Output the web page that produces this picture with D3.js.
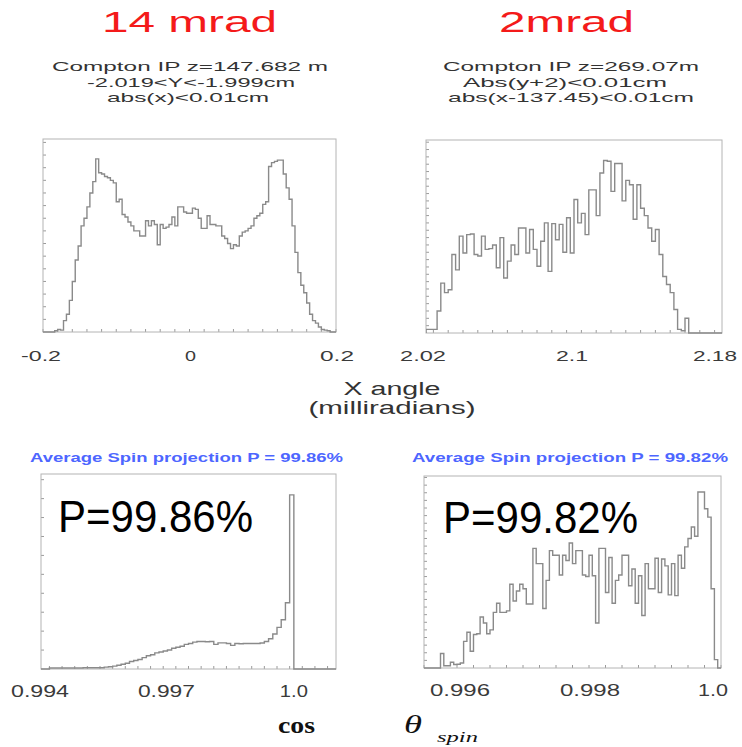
<!DOCTYPE html>
<html><head><meta charset="utf-8">
<script src="https://cdn.jsdelivr.net/npm/d3@7"></script>
<style>html,body{margin:0;padding:0;background:#fff;} svg{display:block;}</style>
</head><body>
<script>
// ---------------- DATA ----------------
const panelTitles = ["14 mrad", "2mrad"];
const leftCuts = ["Compton IP z=147.682 m", "-2.019<Y<-1.999cm", "abs(x)<0.01cm"];
const rightCuts = ["Compton IP z=269.07m", "Abs(y+2)<0.01cm", "abs(x-137.45)<0.01cm"];
const xAngleTitle = ["X angle", "(milliradians)"];
const spinCaptions = ["Average Spin projection P = 99.86%", "Average Spin projection P = 99.82%"];
const bigLabels = ["P=99.86%", "P=99.82%"];

// top-left: X angle, 14 mrad  (bins of 0.004 from -0.2)
const tlDomain = [-0.2, 0.2];
const tlBinStart = -0.2, tlBinWidth = 0.004;
const tlTickValues = [-0.2, 0, 0.2];
const tlTickLabels = ["-0.2", "0", "0.2"];
const tlValues = [0,0,0,0,0.1,0.2,0.15,0.9,1.4,2.5,
 4.0,5.7,6.8,8.4,9.0,9.9,11.0,11.9,13.7,12.6,
 12.5,12.3,12.2,12.0,11.8,10.3,10.5,9.3,9.1,8.7,
 8.4,8.0,8.0,7.6,7.6,8.8,8.4,8.8,8.5,6.9,
 8.5,8.2,8.3,8.5,9.1,8.4,9.9,9.9,9.5,9.4,
 9.4,9.8,9.7,9.0,8.2,8.2,9.2,8.5,8.5,8.4,
 8.4,7.6,7.4,7.0,6.6,6.9,6.8,7.6,7.9,8.0,
 8.2,8.4,9.0,9.2,9.4,10.1,10.3,13.1,13.4,13.5,
 13.6,13.6,12.5,11.4,10.5,8.4,6.3,4.7,3.7,3.1,
 2.3,1.4,0.9,0.7,0.4,0.2,0.15,0.1,0,0];

// top-right: X angle, 2 mrad (bins of 0.002 from 2.02)
const trDomain = [2.02, 2.18];
const trBinStart = 2.02, trBinWidth = 0.002;
const trTickValues = [2.02, 2.1, 2.18];
const trTickLabels = ["2.02", "2.1", "2.18"];
const trValues = [0.5,0.5,0.5,3.0,6.8,5.5,5.9,10.7,8.6,13.2,
 10.9,13.4,13.5,10.7,10.5,13.2,11.4,11.5,12.0,8.9,
 13.0,7.5,9.8,12.0,10.7,14.3,14.3,10.9,14.1,11.4,
 9.1,12.5,15.0,8.4,14.9,12.7,14.8,11.0,15.7,10.9,
 18.2,15.0,16.3,13.4,19.5,19.5,16.0,21.8,23.5,23.4,
 19.3,23.1,23.1,18.0,20.8,20.2,15.5,20.2,17.0,16.0,
 14.3,12.5,14.1,10.7,7.7,6.6,5.5,3.2,0.5,0.3,
 2.0,0,0,0,0,0,0,0,0,0];

// bottom-left: cos theta_spin, 14 mrad (bins of 0.0001 from 0.994)
const blDomain = [0.994, 1.001];
const blBinStart = 0.994, blBinWidth = 0.0001;
const blTickValues = [0.994, 0.997, 1.0];
const blTickLabels = ["0.994", "0.997", "1.0"];
const blValues = [0,0,0.05,0.05,0.05,0.05,0.05,0.05,0.05,0.05,
 0.07,0.07,0.07,0.07,0.07,0.1,0.12,0.15,0.2,0.25,
 0.3,0.4,0.45,0.5,0.6,0.7,0.75,0.85,0.9,0.95,
 1.0,1.1,1.15,1.2,1.3,1.35,1.42,1.45,1.45,1.44,
 1.45,1.3,1.38,1.38,1.35,1.25,1.35,1.33,1.35,1.35,
 1.35,1.35,1.37,1.45,1.6,1.85,2.2,2.6,3.5,9.2,
 0,0,0,0,0,0,0,0,0,0];

// bottom-right: cos theta_spin, 2 mrad (bins of 0.00005 from 0.9955)
const brDomain = [0.9955, 1.0];
const brBinStart = 0.9955, brBinWidth = 0.00005;
const brTickValues = [0.996, 0.998, 1.0];
const brTickLabels = ["0.996", "0.998", "1.0"];
const brValues = [0,0,0,0,0,1.9,0.3,0.3,0.75,0.45,
 0.5,0.65,3.5,4.7,2.2,4.4,4.5,6.7,5.9,4.5,
 5.0,7.3,8.5,7.3,7.3,7.5,11.0,8.8,10.1,11.0,
 10.4,8.4,8.4,15.7,13.7,13.7,7.8,11.5,15.4,14.8,
 14.8,12.2,14.8,14.1,16.4,13.7,15.4,15.4,12.2,12.0,
 14.8,12.1,5.9,15.7,15.7,9.9,14.5,8.5,11.5,12.2,
 14.8,14.8,10.8,13.0,8.5,12.1,6.9,13.7,10.4,10.4,
 14.4,9.9,14.3,13.4,9.6,13.7,9.5,14.8,13.1,15.9,
 17.0,18.5,17.3,23.1,23.1,20.9,19.8,10.4,1.1,0];

// ---------------- LAYOUT ----------------
const W = 742, H = 747;
const svg = d3.select("body").append("svg").attr("width", W).attr("height", H);
svg.append("rect").attr("width", W).attr("height", H).attr("fill", "#fff");

function label(str, x, y, o) {
  const t = svg.append("text").text(str)
    .attr("x", x).attr("y", y)
    .attr("font-family", o.family || "Liberation Sans, Arial, sans-serif")
    .attr("font-size", o.size)
    .attr("fill", o.fill || "#333")
    .attr("text-anchor", o.anchor || "middle");
  if (o.weight) t.attr("font-weight", o.weight);
  if (o.style) t.attr("font-style", o.style);
  if (o.width) t.attr("textLength", o.width).attr("lengthAdjust", "spacingAndGlyphs");
  return t;
}

const panels = [
  { key: "tl", values: tlValues, binStart: tlBinStart, binWidth: tlBinWidth, domain: tlDomain,
    yMax: 15.27, minorStep: 0.02, tickValues: tlTickValues, tickLabels: tlTickLabels,
    frame: { x0: 43, x1: 336, y0: 139, y1: 332 }, labelY: 361, labelSize: 15,
    labelWidths: [40, 11, 34], labelDx: [-2, 1, 1] },
  { key: "tr", values: trValues, binStart: trBinStart, binWidth: trBinWidth, domain: trDomain,
    yMax: 26.3, minorStep: 0.008, tickValues: trTickValues, tickLabels: trTickLabels,
    frame: { x0: 426, x1: 722, y0: 140, y1: 333 }, labelY: 361, labelSize: 15,
    labelWidths: [46, 32, 44], labelDx: [-3, -2, -7] },
  { key: "bl", values: blValues, binStart: blBinStart, binWidth: blBinWidth, domain: blDomain,
    yMax: 10.3, minorStep: 0.0003, tickValues: blTickValues, tickLabels: blTickLabels,
    frame: { x0: 41, x1: 336, y0: 474, y1: 669 }, labelY: 697, labelSize: 16,
    labelWidths: [58, 57, 28], labelDx: [-1, -1, 0] },
  { key: "br", values: brValues, binStart: brBinStart, binWidth: brBinWidth, domain: brDomain,
    yMax: 25.2, minorStep: 0.00025, tickValues: brTickValues, tickLabels: brTickLabels,
    frame: { x0: 424, x1: 721, y0: 476, y1: 668 }, labelY: 696, labelSize: 16,
    labelWidths: [60, 60, 30], labelDx: [3, 1, -8] }
];

const frameColor = "#b4b4b4", tickColor = "#9a9a9a", histColor = "#8a8a8a";

panels.forEach(p => {
  const f = p.frame;
  const x = d3.scaleLinear().domain(p.domain).range([f.x0, f.x1]);
  const y = d3.scaleLinear().domain([0, p.yMax]).range([f.y1, f.y0]);
  const g = svg.append("g");

  // minor left ticks (inward)
  const yt = d3.range(1, Math.floor(p.yMax) + 1);
  g.selectAll(".yt").data(yt).join("line")
    .attr("x1", f.x0).attr("x2", f.x0 + 3)
    .attr("y1", d => y(d)).attr("y2", d => y(d))
    .attr("stroke", tickColor).attr("stroke-width", 1);

  // minor bottom ticks (inward)
  const k0 = Math.ceil(p.domain[0] / p.minorStep - 1e-6), k1 = Math.floor(p.domain[1] / p.minorStep + 1e-6);
  const xt = d3.range(k0, k1 + 1).map(k => k * p.minorStep);
  g.selectAll(".xt").data(xt).join("line")
    .attr("x1", d => x(d)).attr("x2", d => x(d))
    .attr("y1", f.y1).attr("y2", f.y1 - 3)
    .attr("stroke", tickColor).attr("stroke-width", 1);

  // frame
  g.append("rect").attr("x", f.x0).attr("y", f.y0)
    .attr("width", f.x1 - f.x0).attr("height", f.y1 - f.y0)
    .attr("fill", "none").attr("stroke", frameColor).attr("stroke-width", 1);

  // histogram step outline
  const n = p.values.length;
  const edge = i => p.binStart + i * p.binWidth;
  const pts = [[edge(0), 0]];
  p.values.forEach((v, i) => pts.push([edge(i), v]));
  pts.push([edge(n), p.values[n - 1]]);
  pts.push([edge(n), 0]);
  const line = d3.line().x(d => x(d[0])).y(d => y(d[1])).curve(d3.curveStepAfter);
  const clipId = "clip-" + p.key;
  svg.append("clipPath").attr("id", clipId).append("rect")
    .attr("x", f.x0).attr("y", f.y0 - 2).attr("width", f.x1 - f.x0).attr("height", f.y1 - f.y0 + 3);
  g.append("path").attr("d", line(pts)).attr("clip-path", `url(#${clipId})`)
    .attr("fill", "none").attr("stroke", histColor).attr("stroke-width", 1.4)
    .attr("stroke-linejoin", "miter");

  // tick labels
  p.tickValues.forEach((v, i) => {
    label(p.tickLabels[i], x(v) + p.labelDx[i], p.labelY,
      { size: p.labelSize, fill: "#3a3a3a", width: p.labelWidths[i] });
  });
});

// titles
label(panelTitles[0], 189.5, 32, { size: 30, fill: "#f41a1a", width: 175 });
label(panelTitles[1], 566.5, 32, { size: 30, fill: "#f41a1a", width: 135 });

const cutY = [71, 86.5, 102];
const leftCutX = [190, 191, 188], leftCutW = [276, 208, 162];
const rightCutX = [571, 565, 571], rightCutW = [256, 204, 246];
leftCuts.forEach((s, i) => label(s, leftCutX[i], cutY[i], { size: 13.5, fill: "#333", width: leftCutW[i] }));
rightCuts.forEach((s, i) => label(s, rightCutX[i], cutY[i], { size: 13.5, fill: "#333", width: rightCutW[i] }));

label(xAngleTitle[0], 392, 395, { size: 18, fill: "#333", width: 97 });
label(xAngleTitle[1], 392, 414, { size: 18, fill: "#333", width: 167 });

label(spinCaptions[0], 186.5, 462, { size: 13, fill: "#4d66ff", weight: "bold", width: 313 });
label(spinCaptions[1], 570, 462, { size: 13, fill: "#4d66ff", weight: "bold", width: 316 });

label(bigLabels[0], 58, 532, { size: 44, fill: "#000", anchor: "start", width: 195 });
label(bigLabels[1], 443, 533, { size: 44, fill: "#000", anchor: "start", width: 195 });

// cos θ_spin
label("cos", 278, 733, { size: 24, fill: "#111", anchor: "start", weight: "bold",
  family: "Liberation Serif, Times New Roman, serif", width: 37 });
label("\u03B8", 404, 733, { size: 25, fill: "#111", anchor: "start", style: "italic",
  family: "Liberation Serif, Times New Roman, serif", width: 18 });
label("spin", 437, 742, { size: 15, fill: "#111", anchor: "start", style: "italic",
  family: "Liberation Serif, Times New Roman, serif", width: 41 });
</script>
</body></html>
